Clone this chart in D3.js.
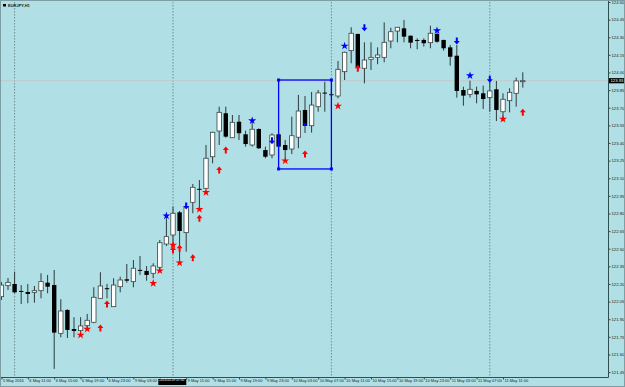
<!DOCTYPE html>
<html lang="en">
  <head>
    <script src="https://d3js.org/d3.v7.min.js"></script>
    <style>
      body { margin: 0; background: #b0e0e6; }
      text { font-family: "Liberation Sans", Arial, sans-serif; }
    </style>
  </head>
  <body>
    <script>
      // EURJPY H1 candles, bar 0 = leftmost
      var opens = [122.092,122.186,122.200,122.141,122.132,122.129,122.143,122.211,122.191,121.780,
        121.979,121.817,121.803,121.845,121.874,122.078,122.164,122.007,122.177,122.240,
        122.220,122.320,122.311,122.291,122.342,122.540,122.617,122.810,122.637,122.895,
        123.010,123.014,123.283,123.502,123.653,123.445,123.581,123.474,123.383,123.519,
        123.340,123.298,123.474,123.383,123.349,123.449,123.681,123.547,123.709,123.829,
        123.815,123.800,124.007,124.186,124.328,124.036,124.112,124.129,124.129,124.268,
        124.353,124.376,124.313,124.277,124.277,124.254,124.328,124.277,124.214,124.143,
        123.851,123.814,123.843,123.823,123.786,123.857,123.666,123.760,123.823,123.922];
      var highs = [122.217,122.251,122.305,122.191,122.200,122.183,122.291,122.277,122.319,122.070,
        121.985,121.917,121.917,121.945,122.172,122.300,122.200,122.249,122.262,122.370,
        122.404,122.438,122.353,122.376,122.574,122.773,122.858,122.821,122.887,123.051,
        123.085,123.383,123.496,123.709,123.709,123.638,123.638,123.505,123.596,123.525,
        123.369,123.483,123.491,123.426,123.624,123.809,123.800,123.834,123.851,123.922,
        123.860,124.098,124.177,124.385,124.330,124.257,124.257,124.214,124.427,124.381,
        124.387,124.447,124.315,124.291,124.291,124.398,124.336,124.279,124.234,124.234,
        123.879,123.930,123.879,123.888,123.922,123.928,123.823,123.866,123.956,124.002];
      var lows = [122.064,122.149,122.121,122.030,122.036,122.041,122.078,122.121,121.477,121.746,
        121.740,121.746,121.757,121.809,121.866,122.075,122.078,122.005,122.129,122.211,
        122.172,122.277,122.228,122.249,122.319,122.523,122.546,122.404,122.475,122.802,
        122.830,123.010,123.227,123.383,123.445,123.443,123.426,123.369,123.369,123.350,
        123.270,123.270,123.270,123.270,123.306,123.355,123.485,123.488,123.666,123.666,
        123.794,123.780,123.936,124.078,124.021,123.908,124.021,124.070,124.087,124.206,
        124.257,124.257,124.206,124.197,124.220,124.206,124.253,124.186,124.058,123.786,
        123.717,123.786,123.738,123.689,123.666,123.587,123.610,123.661,123.709,123.871];
      var closes = [122.191,122.214,122.129,122.139,122.115,122.143,122.220,122.177,121.786,121.970,
        121.809,121.800,121.843,121.891,122.087,122.183,122.162,122.191,122.234,122.228,
        122.334,122.318,122.277,122.353,122.551,122.603,122.802,122.651,122.858,123.023,
        123.008,123.270,123.491,123.661,123.454,123.576,123.483,123.391,123.517,123.355,
        123.283,123.468,123.369,123.340,123.462,123.672,123.545,123.723,123.826,123.827,
        123.813,124.027,124.172,124.334,124.041,124.106,124.129,124.149,124.257,124.347,
        124.385,124.305,124.254,124.275,124.249,124.334,124.262,124.206,124.134,123.843,
        123.803,123.857,123.814,123.774,123.843,123.681,123.772,123.831,123.928,123.930];

      // indicator signals (bar, price)
      var redStarBars = [12,13,23,24,26,27,30,31,43,51,76];
      var redStarPrices = [121.766,121.817,122.206,122.313,122.532,122.381,122.836,122.980,123.249,123.715,123.604];
      var redArrowBars = [15,16,26,27,29,30,33,34,46,54,79];
      var redArrowPrices = [121.826,122.030,122.489,122.504,122.424,122.759,123.170,123.340,123.306,124.036,123.661];
      var blueStarBars = [25,38,52,66,71];
      var blueStarPrices = [122.781,123.590,124.226,124.356,123.973];
      var blueArrowBars = [28,41,55,69,74];
      var blueArrowPrices = [122.864,123.420,124.381,124.268,123.942];

      // drawn rectangle object (bars, prices) and day separators
      var rectBars = [42, 50];
      var rectPrices = [123.936, 123.179];
      var sepBars = [2, 26, 50, 74];

      var yTicks = [121.45,121.60,121.75,121.90,122.05,122.20,122.35,122.50,122.65,122.80,122.95,
        123.10,123.25,123.40,123.55,123.70,123.85,124.00,124.15,124.30,124.45,124.60];
      var timeBars = [0,4,8,12,16,20,24,28,32,36,40,44,48,52,56,60,64,68,72,76];
      var timeLabels = ["5 May 2016","6 May 11:00","6 May 15:00","6 May 19:00","6 May 23:00",
        "9 May 03:00","2016.05.09 07:00","9 May 11:00","9 May 15:00","9 May 19:00","9 May 23:00",
        "10 May 03:00","10 May 07:00","10 May 11:00","10 May 15:00","10 May 19:00","10 May 23:00",
        "11 May 03:00","11 May 07:00","11 May 11:00"];
      var hiliteLabel = 6;

      var width = 625, height = 387;
      var plotRight = 608, plotTop = 2, plotBottom = 377;

      var x = d3.scaleLinear().domain([0, 79]).range([1.4, 522.8]);
      var y = d3.scaleLinear().domain([121.45, 124.6]).range([372.1, 2]);

      var svg = d3.select("body").append("svg")
        .attr("width", width).attr("height", height);

      svg.append("rect").attr("width", width).attr("height", height).attr("fill", "#b0e0e6");

      svg.append("defs").append("clipPath").attr("id", "plot")
        .append("rect").attr("x", 0).attr("y", plotTop)
        .attr("width", plotRight).attr("height", plotBottom - plotTop);

      var plot = svg.append("g").attr("clip-path", "url(#plot)");

      // day separators
      plot.selectAll(".sep").data(sepBars).join("line")
        .attr("x1", d => x(d)).attr("x2", d => x(d))
        .attr("y1", plotTop).attr("y2", plotBottom)
        .attr("stroke", "#6f8d92").attr("stroke-width", 1)
        .attr("stroke-dasharray", "1.5,1.5");

      // bid line
      var last = closes[closes.length - 1];
      plot.append("line")
        .attr("x1", 0).attr("x2", plotRight)
        .attr("y1", y(last)).attr("y2", y(last))
        .attr("stroke", "#c2c8c9").attr("stroke-width", 1);

      var bars = d3.range(opens.length);
      var bw = 4.4;

      // wicks
      plot.selectAll(".wick").data(bars).join("line")
        .attr("x1", i => x(i)).attr("x2", i => x(i))
        .attr("y1", i => y(highs[i])).attr("y2", i => y(lows[i]))
        .attr("stroke", "#2a3a3c").attr("stroke-width", 1);

      // bodies
      plot.selectAll(".body").data(bars).join("rect")
        .attr("x", i => x(i) - bw / 2)
        .attr("y", i => y(Math.max(opens[i], closes[i])))
        .attr("width", bw)
        .attr("height", i => Math.max(1, Math.abs(y(opens[i]) - y(closes[i]))))
        .attr("fill", i => closes[i] > opens[i] + 0.004 ? "#ffffff" : "#000000")
        .attr("stroke", i => closes[i] > opens[i] + 0.004 ? "#3a4547" : "none")
        .attr("stroke-width", 0.8);

      // star markers
      var star = d3.symbol().type(d3.symbolStar).size(20);
      plot.selectAll(".rstar").data(redStarBars).join("path")
        .attr("d", star)
        .attr("transform", (d, k) => "translate(" + x(d) + "," + y(redStarPrices[k]) + ")")
        .attr("fill", "#ff0000");
      plot.selectAll(".bstar").data(blueStarBars).join("path")
        .attr("d", star)
        .attr("transform", (d, k) => "translate(" + x(d) + "," + y(blueStarPrices[k]) + ")")
        .attr("fill", "#0000ff");

      // arrows (drawn pointing up, flipped for down)
      var arrow = "M0,-3.5 L3,0 L1,0 L1,3.5 L-1,3.5 L-1,0 L-3,0 Z";
      plot.selectAll(".rarrow").data(redArrowBars).join("path")
        .attr("d", arrow)
        .attr("transform", (d, k) => "translate(" + x(d) + "," + y(redArrowPrices[k]) + ")")
        .attr("fill", "#ff0000");
      plot.selectAll(".barrow").data(blueArrowBars).join("path")
        .attr("d", arrow)
        .attr("transform", (d, k) => "translate(" + x(d) + "," + y(blueArrowPrices[k]) + ") scale(1,-1)")
        .attr("fill", "#0000ff");

      // rectangle object (selected, with handles)
      var rx0 = x(rectBars[0]), rx1 = x(rectBars[1]);
      var ry0 = y(rectPrices[0]), ry1 = y(rectPrices[1]);
      plot.append("rect")
        .attr("x", rx0).attr("y", ry0)
        .attr("width", rx1 - rx0).attr("height", ry1 - ry0)
        .attr("fill", "none").attr("stroke", "#0000ff").attr("stroke-width", 1.3);
      var handles = [[rx0, ry0], [rx1, ry0], [rx0, ry1], [rx1, ry1], [(rx0 + rx1) / 2, (ry0 + ry1) / 2]];
      plot.selectAll(".handle").data(handles).join("rect")
        .attr("x", d => d[0] - 1.5).attr("y", d => d[1] - 1.5)
        .attr("width", 3).attr("height", 3).attr("fill", "#0000ff");

      // right price axis
      svg.append("line")
        .attr("x1", plotRight + 0.5).attr("x2", plotRight + 0.5)
        .attr("y1", 0).attr("y2", plotBottom + 0.5)
        .attr("stroke", "#2f4f4f").attr("stroke-width", 1);
      var yAxis = svg.append("g")
        .attr("transform", "translate(" + (plotRight + 0.5) + ",0)")
        .call(d3.axisRight(y).tickValues(yTicks).tickSize(2).tickPadding(1).tickFormat(d3.format(".2f")));
      yAxis.select(".domain").remove();
      yAxis.selectAll("line").attr("stroke", "#2f4f4f");
      yAxis.selectAll("text").attr("font-size", 4.2).attr("fill", "#1a1a1a")
        .attr("font-family", "Liberation Sans, Arial, sans-serif");

      // current price label
      svg.append("rect")
        .attr("x", plotRight + 1).attr("y", y(last) - 2.6)
        .attr("width", 15).attr("height", 5.2).attr("fill", "#000000");
      svg.append("text")
        .attr("x", plotRight + 2.5).attr("y", y(last) + 1.5)
        .attr("font-size", 4.2).attr("fill", "#ffffff")
        .text(last.toFixed(2));

      // bottom time axis
      svg.append("line")
        .attr("x1", 0).attr("x2", plotRight + 0.5)
        .attr("y1", plotBottom + 0.5).attr("y2", plotBottom + 0.5)
        .attr("stroke", "#2f4f4f").attr("stroke-width", 1);
      var xAxis = svg.append("g")
        .attr("transform", "translate(0," + (plotBottom + 0.5) + ")")
        .call(d3.axisBottom(x).tickValues(timeBars).tickSize(2).tickPadding(1)
          .tickFormat((d, k) => timeLabels[k]));
      xAxis.select(".domain").remove();
      xAxis.selectAll("line").attr("stroke", "#2f4f4f");
      xAxis.selectAll("text")
        .attr("text-anchor", "start").attr("dx", 1).attr("dy", "0.25em")
        .attr("font-size", 4).attr("fill", "#1a1a1a")
        .attr("font-family", "Liberation Sans, Arial, sans-serif");

      // highlighted time label (vertical line object)
      var hl = xAxis.selectAll(".tick").filter((d, k) => k === hiliteLabel);
      hl.insert("rect", "text")
        .attr("x", -2).attr("y", 1.5).attr("width", 28).attr("height", 6)
        .attr("fill", "#000000");
      hl.select("text").attr("fill", "#ffffff").attr("dx", -1)
        .attr("font-size", 3.6)
        .attr("textLength", 25).attr("lengthAdjust", "spacingAndGlyphs");

      // chart title
      svg.append("rect").attr("x", 3).attr("y", 4).attr("width", 3).attr("height", 2.5).attr("fill", "#000");
      svg.append("text").attr("x", 8).attr("y", 7)
        .attr("font-size", 4).attr("font-weight", "bold").attr("fill", "#1a1a1a")
        .text("EURJPY,H1");

      // outer frame
      svg.append("rect").attr("x", 0.5).attr("y", 0.5)
        .attr("width", width - 1).attr("height", height - 1)
        .attr("fill", "none").attr("stroke", "#7d9ea3").attr("stroke-width", 1);
    </script>
  </body>
</html>
